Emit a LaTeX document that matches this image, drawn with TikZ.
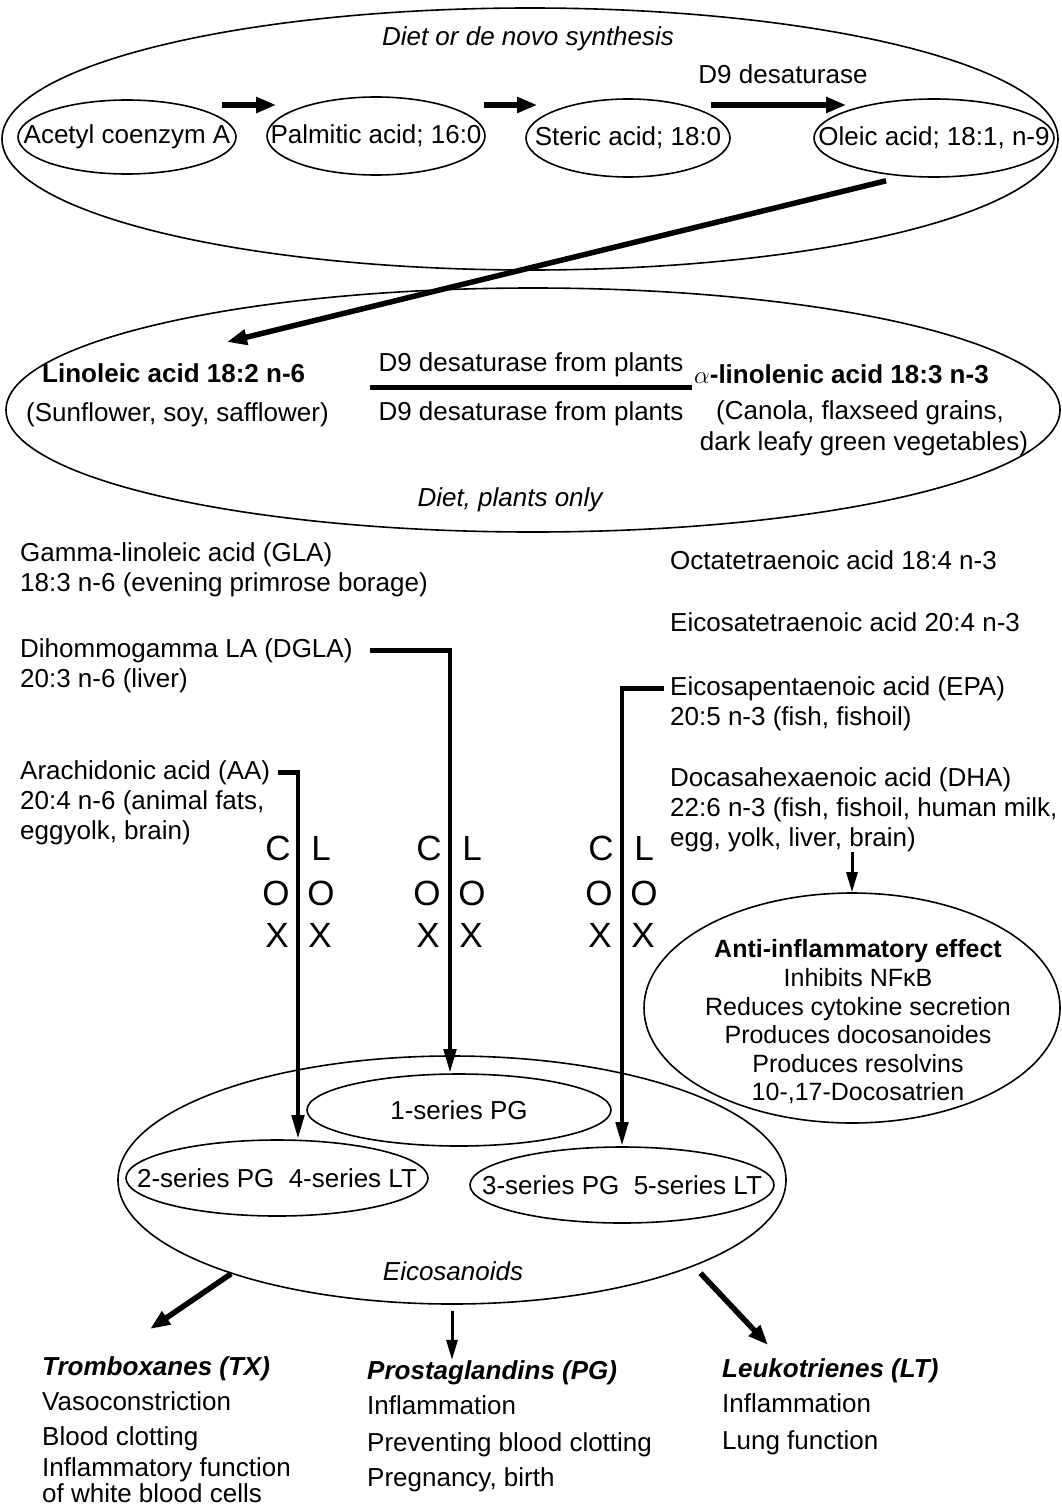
\documentclass[tikz,border=0pt]{standalone}
\usepackage{fontspec}
\setmainfont{Liberation Sans}
\usetikzlibrary{shapes.geometric,arrows.meta,calc}
\newcommand{\nowidth}[1]{\makebox[0pt]{#1}}
\tikzset{
  oval/.style={ellipse, draw, line width=1.6pt},
  txt/.style={anchor=base west},
  mid/.style={anchor=base},
  fat/.style={line width=5.5pt, -{Triangle[length=20pt,width=15pt]}},
  cox/.style={line width=4.5pt, -{Triangle[length=24pt,width=12pt]}},
  slimarrow/.style={line width=3pt, -{Triangle[length=20pt,width=11pt]}},
  bigletter/.style={font=\fontsize{35}{40}\selectfont}
}
\begin{document}
\begin{tikzpicture}[x=1pt, y=-1pt, every node/.style={font=\fontsize{26}{31}\selectfont, inner sep=0pt}]
\useasboundingbox (0,0) rectangle (1061,1509);

% diet or de novo synthesis
\node[oval, minimum width=1056pt, minimum height=262pt] (synth) at (530,139) {};
\node[mid] (synthlbl) at (528,46) {\itshape Diet or de novo synthesis};
\node[oval, minimum width=218pt, minimum height=74pt] (acetyl) at (127,137) {\nowidth{Acetyl coenzym A}};
\node[oval, minimum width=218pt, minimum height=78pt] (palm) at (376,136) {\nowidth{Palmitic acid; 16:0}};
\node[oval, minimum width=204pt, minimum height=78pt] (steric) at (628,138) {\nowidth{Steric acid; 18:0}};
\node[oval, minimum width=240pt, minimum height=78pt] (oleic) at (934,138) {\nowidth{Oleic acid; 18:1, n-9}};
\node[mid] (d9) at (783,84) {D9 desaturase};
\draw[fat] ($(acetyl.east)+(-15,-32)$) -- ($(palm.west)+(10,-31)$);
\draw[fat] ($(palm.east)+(-2,-31)$) -- ($(steric.west)+(12,-33)$);
\draw[fat] ($(steric.east)+(-20,-33)$) -- ($(oleic.west)+(33,-33)$);

% diet, plants only
\node[oval, minimum width=1054pt, minimum height=244pt] (plants) at (533,410) {};
\node[txt] (lin) at (42,382) {\bfseries Linoleic acid 18:2 n-6};
\node[txt] (linsrc) at (26,421) {(Sunflower, soy, safflower)};
\node[mid] (d9a) at (531,371) {D9 desaturase from plants};
\node[mid] (d9b) at (531,420) {D9 desaturase from plants};
\draw[line width=5pt] ($(d9a.base west)+(-8,16)$) -- ($(d9a.base east)+(8,16)$);
\node[txt] (ala) at (694,383) {$\alpha$\bfseries-linolenic acid 18:3 n-3};
\node[mid] (alasrc) at (860,419) {(Canola, flaxseed grains,};
\node[mid] (alasrc2) at (864,450) {dark leafy green vegetables)};
\node[mid] (plantslbl) at (510,506) {\itshape Diet, plants only};
\draw[fat] ($(oleic.south)+(-48,3)$) -- ($(lin.north west)+(185,-21)$);

% n-6 series
\node[txt] (gla) at (20,561) {Gamma-linoleic acid (GLA)};
\node[txt] (gla2) at (20,591) {18:3 n-6 (evening primrose borage)};
\node[txt] (dgla) at (20,657) {Dihommogamma LA (DGLA)};
\node[txt] (dgla2) at (20,687) {20:3 n-6 (liver)};
\node[txt] (aa) at (20,779) {Arachidonic acid (AA)};
\node[txt] (aa2) at (20,809) {20:4 n-6 (animal fats,};
\node[txt] (aa3) at (20,839) {eggyolk, brain)};

% n-3 series
\node[txt] (ota) at (670,569) {Octatetraenoic acid 18:4 n-3};
\node[txt] (eta) at (670,631) {Eicosatetraenoic acid 20:4 n-3};
\node[txt] (epa) at (670,695) {Eicosapentaenoic acid (EPA)};
\node[txt] (epa2) at (670,725) {20:5 n-3 (fish, fishoil)};
\node[txt] (dha) at (670,786) {Docasahexaenoic acid (DHA)};
\node[txt] (dha2) at (670,816) {22:6 n-3 (fish, fishoil, human milk,};
\node[txt] (dha3) at (670,846) {egg, yolk, liver, brain)};

% anti-inflammatory
\node[oval, minimum width=416pt, minimum height=230pt] (anti) at (852,1008) {};
\node[align=center, font=\fontsize{25}{28.6}\selectfont] (antitxt) at (858,1022)
  {\textbf{Anti-inflammatory effect}\\Inhibits NFκB\\Reduces cytokine secretion\\
   Produces docosanoides\\Produces resolvins\\10-,17-Docosatrien};
\draw[slimarrow] (anti.north |- dha3.south) -- (anti.north);

% eicosanoids
\node[oval, minimum width=668pt, minimum height=248pt] (eico) at (452,1180) {};
\node[mid] (eicolbl) at (453,1280) {\itshape Eicosanoids};
\node[oval, minimum width=304pt, minimum height=72pt] (pg1) at (459,1110) {\nowidth{1-series PG}};
\node[oval, minimum width=302pt, minimum height=76pt] (pg2) at (277,1178) {\nowidth{2-series PG\ \ 4-series LT}};
\node[oval, minimum width=304pt, minimum height=76pt] (pg3) at (622,1185) {\nowidth{3-series PG\ \ 5-series LT}};

\draw[cox] ($(dgla.east)+(17,0)$) -| ([xshift=-9pt]pg1.north);
\draw[cox] ($(aa.east)+(8,0)$) -| ([xshift=21pt]pg2.north);
\draw[cox] ($(epa.west)+(-6,0)$) -| (pg3.north);
\foreach \x [count=\i] in {298,449,621}{
  \node[bigletter] (c\i) at (\x-20,848) {C};
  \node[bigletter] (l\i) at (\x+23,848) {L};
  \node[bigletter] (oa\i) at (\x-22,893) {O};
  \node[bigletter] (ob\i) at (\x+23,893) {O};
  \node[bigletter] (xa\i) at (\x-21,935) {X};
  \node[bigletter] (xb\i) at (\x+22,935) {X};
}

% effects
\node[txt] (trx) at (42,1375) {\bfseries\itshape Tromboxanes (TX)};
\node[txt] (trx1) at (42,1410) {Vasoconstriction};
\node[txt] (trx2) at (42,1445) {Blood clotting};
\node[txt] (trx3) at (42,1476) {Inflammatory function};
\node[txt] (trx4) at (42,1502) {of white blood cells};
\node[txt] (pgt) at (367,1379) {\bfseries\itshape Prostaglandins (PG)};
\node[txt] (pgt1) at (367,1414) {Inflammation};
\node[txt] (pgt2) at (367,1451) {Preventing blood clotting};
\node[txt] (pgt3) at (367,1486) {Pregnancy, birth};
\node[txt] (lkt) at (722,1377) {\bfseries\itshape Leukotrienes (LT)};
\node[txt] (lkt1) at (722,1412) {Inflammation};
\node[txt] (lkt2) at (722,1449) {Lung function};
\draw[fat] (eico.203) -- ($(trx.north)+(-6,-27)$);
\draw[slimarrow] ([yshift=-6pt]eico.south) -- (eico.south |- pgt.north);
\draw[fat] ($(eico.340)+(9,6)$) -- ($(lkt.north west)+(46,-13)$);
\end{tikzpicture}
\end{document}
